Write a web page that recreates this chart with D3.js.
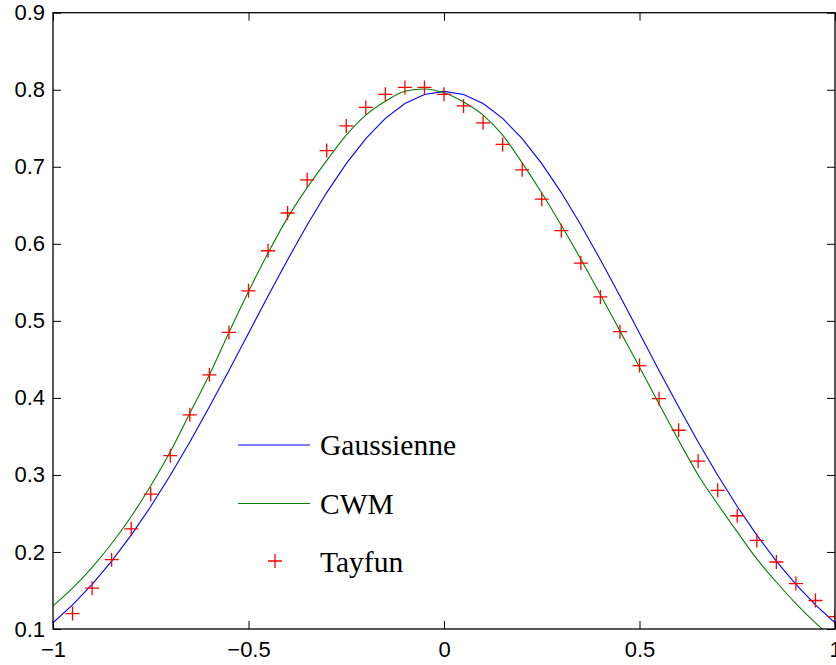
<!DOCTYPE html>
<html>
<head>
<meta charset="utf-8">
<script src="https://cdn.jsdelivr.net/npm/d3@7"></script>
<style>
  body { margin: 0; background: #fff; }
  svg { display: block; }
</style>
</head>
<body>
<div id="chart"></div>
<script>
        var w = 836
        var h = 665

        // x positions shared by the two curves
        var xs = [-1, -0.95, -0.9, -0.85, -0.8, -0.75, -0.7, -0.65, -0.6, -0.55, -0.5,
                  -0.45, -0.4, -0.35, -0.3, -0.25, -0.2, -0.15, -0.1, -0.05, 0,
                  0.05, 0.1, 0.15, 0.2, 0.25, 0.3, 0.35, 0.4, 0.45, 0.5,
                  0.55, 0.6, 0.65, 0.7, 0.75, 0.8, 0.85, 0.9, 0.95, 1]

        var gaussienne = [0.1080, 0.1312, 0.1579, 0.1881, 0.2218, 0.2590, 0.2995, 0.3428, 0.3884, 0.4357, 0.4839,
                          0.5322, 0.5794, 0.6245, 0.6665, 0.7041, 0.7366, 0.7628, 0.7821, 0.7939, 0.7979,
                          0.7939, 0.7821, 0.7628, 0.7366, 0.7041, 0.6665, 0.6245, 0.5794, 0.5322, 0.4839,
                          0.4357, 0.3884, 0.3428, 0.2995, 0.2590, 0.2218, 0.1881, 0.1579, 0.1312, 0.1080]

        var cwm = [0.130, 0.153, 0.180, 0.211, 0.246, 0.286, 0.330, 0.380, 0.430, 0.485, 0.538,
                   0.588, 0.634, 0.673, 0.708, 0.741, 0.767, 0.785, 0.798, 0.801, 0.796,
                   0.784, 0.767, 0.741, 0.705, 0.666, 0.624, 0.580, 0.534, 0.487, 0.440,
                   0.392, 0.345, 0.300, 0.262, 0.226, 0.191, 0.161, 0.133, 0.108, 0.086]

        var tayfunX = [-0.95, -0.9, -0.85, -0.8, -0.75, -0.7, -0.65, -0.6, -0.55, -0.5,
                       -0.45, -0.4, -0.35, -0.3, -0.25, -0.2, -0.15, -0.1, -0.05, 0,
                       0.05, 0.1, 0.15, 0.2, 0.25, 0.3, 0.35, 0.4, 0.45, 0.5,
                       0.55, 0.6, 0.65, 0.7, 0.75, 0.8, 0.85, 0.9, 0.95, 1]
        var tayfun = [0.120, 0.153, 0.190, 0.230, 0.275, 0.325, 0.378, 0.430, 0.485, 0.539,
                      0.591, 0.640, 0.683, 0.721, 0.753, 0.777, 0.794, 0.803, 0.803, 0.794,
                      0.779, 0.757, 0.729, 0.696, 0.658, 0.617, 0.575, 0.531, 0.486, 0.442,
                      0.399, 0.358, 0.318, 0.280, 0.247, 0.215, 0.187, 0.159, 0.137, 0.116]

        var xTicks = [-1, -0.5, 0, 0.5, 1]
        var yTicks = [0.1, 0.2, 0.3, 0.4, 0.5, 0.6, 0.7, 0.8, 0.9]

        var legendLabels = ["Gaussienne", "CWM", "Tayfun"]
        var colors = ["#0000ff", "#008000", "#ff0000"]

        // plot box (avoid the name "top", it is window.top)
        var boxL = 53, boxR = 835, boxT = 12.7, boxB = 629

        var x = d3.scaleLinear().domain([-1, 1]).range([boxL, boxR])
        var y = d3.scaleLinear().domain([0.1, 0.9]).range([boxB, boxT])

        var svg = d3.select("#chart").append("svg").attr("width", w).attr("height", h)

        svg.append("clipPath").attr("id", "plotClip")
            .append("rect")
            .attr("x", boxL).attr("y", boxT)
            .attr("width", boxR - boxL).attr("height", boxB - boxT)

        var fmt = function(d) { return d === 0 ? "0" : String(d).replace("-", "\u2212") }

        // bottom / left axes with labels, ticks pointing inward
        svg.append("g")
            .attr("transform", "translate(0," + boxB + ")")
            .call(d3.axisBottom(x).tickValues(xTicks).tickFormat(fmt).tickSizeInner(-8).tickSizeOuter(0).tickPadding(12))
        svg.append("g")
            .attr("transform", "translate(" + boxL + ",0)")
            .call(d3.axisLeft(y).tickValues(yTicks).tickFormat(fmt).tickSizeInner(-8).tickSizeOuter(0).tickPadding(8))
        // top / right: ticks only
        svg.append("g")
            .attr("transform", "translate(0," + boxT + ")")
            .call(d3.axisTop(x).tickValues(xTicks).tickFormat("").tickSizeInner(-8).tickSizeOuter(0))
        svg.append("g")
            .attr("transform", "translate(" + boxR + ",0)")
            .call(d3.axisRight(y).tickValues(yTicks).tickFormat("").tickSizeInner(-8).tickSizeOuter(0))

        svg.selectAll(".domain").remove()
        svg.selectAll(".tick line").attr("stroke", "#000").attr("stroke-width", 1)
        svg.selectAll(".tick text")
            .attr("fill", "#000")
            .style("font-family", "'Liberation Sans', Arial, sans-serif")
            .style("font-size", "22px")

        var plot = svg.append("g").attr("clip-path", "url(#plotClip)")

        var line = d3.line()
            .x(function(d) { return x(d[0]) })
            .y(function(d) { return y(d[1]) })

        plot.append("path")
            .datum(xs.map(function(v, i) { return [v, gaussienne[i]] }))
            .attr("fill", "none")
            .attr("stroke", colors[0])
            .attr("stroke-width", 1.1)
            .attr("d", line)

        plot.append("path")
            .datum(xs.map(function(v, i) { return [v, cwm[i]] }))
            .attr("fill", "none")
            .attr("stroke", colors[1])
            .attr("stroke-width", 1.1)
            .attr("d", d3.line().curve(d3.curveMonotoneX)
                .x(function(d) { return x(d[0]) })
                .y(function(d) { return y(d[1]) }))

        var plus = "M-7,0H7M0,-7V7"

        plot.selectAll("path.tayfun")
            .data(tayfunX.map(function(v, i) { return [v, tayfun[i]] }))
            .enter()
            .append("path")
            .attr("class", "tayfun")
            .attr("transform", function(d) { return "translate(" + x(d[0]) + "," + y(d[1]) + ")" })
            .attr("d", plus)
            .attr("fill", "none")
            .attr("stroke", colors[2])
            .attr("stroke-width", 1.3)

        // axes box on top
        svg.append("rect")
            .attr("x", boxL).attr("y", boxT)
            .attr("width", boxR - boxL).attr("height", boxB - boxT)
            .attr("fill", "none")
            .attr("stroke", "#000")
            .attr("stroke-width", 1.3)

        // legend (no box)
        var leg = svg.append("g")
        legendLabels.forEach(function(label, i) {
            var ly = 445 + i * 58.5
            if (i < 2) {
                leg.append("line")
                    .attr("x1", 238).attr("x2", 310)
                    .attr("y1", ly).attr("y2", ly)
                    .attr("stroke", colors[i])
                    .attr("stroke-width", 1.1)
            } else {
                leg.append("path")
                    .attr("transform", "translate(275," + (ly - 1) + ")")
                    .attr("d", plus)
                    .attr("fill", "none")
                    .attr("stroke", colors[i])
                    .attr("stroke-width", 1.3)
            }
            leg.append("text")
                .attr("x", 320)
                .attr("y", ly + 10)
                .text(label)
                .style("font-family", "'Liberation Serif', 'Times New Roman', serif")
                .style("font-size", "29.5px")
        })
</script>
</body>
</html>
